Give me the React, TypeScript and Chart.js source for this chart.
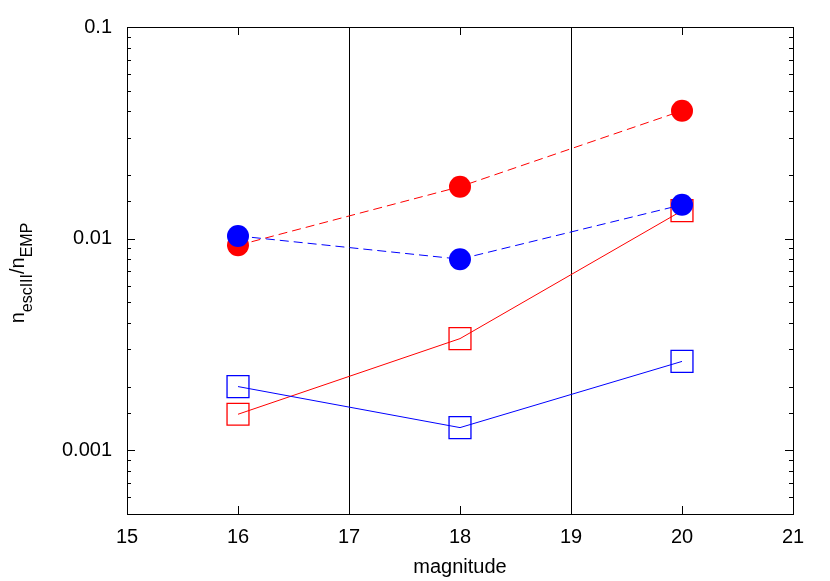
import React, { useEffect, useRef } from "react";
import { Chart, registerables } from "chart.js";

Chart.register(...registerables);

const magnitudes = [16, 18, 20];
const redFilled = [0.0093, 0.0176, 0.0402];
const blueFilled = [0.0103, 0.0080, 0.01445];
const redOpen = [0.00148, 0.00337, 0.01355];
const blueOpen = [0.0020, 0.00128, 0.00263];
const xTicks = [15, 16, 17, 18, 19, 20, 21];
const xDividers = [17, 19];
const yLabels = [0.001, 0.01, 0.1];

const FONT = '"Liberation Sans", Arial, Helvetica, sans-serif';
const RED = "#ff0000";
const BLUE = "#0000ff";

const pts = (ys: number[]) => magnitudes.map((x, i) => ({ x, y: ys[i] }));

const isDecade = (v: number) => Math.abs(Math.log10(v) - Math.round(Math.log10(v))) < 1e-6;

const framePlugin = {
  id: "frame",
  afterDraw(chart: any) {
    const { ctx, chartArea: a, scales } = chart;
    ctx.save();
    ctx.strokeStyle = "#000";
    ctx.lineWidth = 1;
    ctx.strokeRect(Math.round(a.left) + 0.5, Math.round(a.top) + 0.5, Math.round(a.right - a.left), Math.round(a.bottom - a.top));
    ctx.beginPath();
    for (const t of scales.x.ticks) {
      const px = Math.round(scales.x.getPixelForValue(t.value)) + 0.5;
      ctx.moveTo(px, a.bottom);
      ctx.lineTo(px, a.bottom - 8);
      ctx.moveTo(px, a.top);
      ctx.lineTo(px, a.top + 8);
    }
    for (const t of scales.y.ticks) {
      const py = Math.round(scales.y.getPixelForValue(t.value)) + 0.5;
      const len = isDecade(t.value) ? 8 : 4;
      ctx.moveTo(a.left, py);
      ctx.lineTo(a.left + len, py);
      ctx.moveTo(a.right, py);
      ctx.lineTo(a.right - len, py);
    }
    ctx.stroke();
    // x title
    ctx.fillStyle = "#000";
    ctx.font = `20px ${FONT}`;
    ctx.textAlign = "center";
    ctx.textBaseline = "middle";
    ctx.fillText("magnitude", (a.left + a.right) / 2, 567);
    // y title with subscripts
    const parts = [
      { t: "n", size: 20, dy: 0 },
      { t: "escIII", size: 16, dy: 8 },
      { t: "/n", size: 20, dy: 0 },
      { t: "EMP", size: 16, dy: 8 },
    ];
    ctx.textAlign = "left";
    ctx.textBaseline = "alphabetic";
    let total = 0;
    const widths = parts.map((p) => {
      ctx.font = `${p.size}px ${FONT}`;
      const w = ctx.measureText(p.t).width;
      total += w;
      return w;
    });
    ctx.translate(24, 273);
    ctx.rotate(-Math.PI / 2);
    let x = -total / 2;
    parts.forEach((p, i) => {
      ctx.font = `${p.size}px ${FONT}`;
      ctx.fillText(p.t, x, p.dy);
      x += widths[i];
    });
    ctx.restore();
  },
};

export default function App() {
  const ref = useRef<HTMLCanvasElement | null>(null);
  useEffect(() => {
    if (!ref.current) return;
    const chart = new Chart(ref.current, {
      type: "line",
      data: {
        datasets: [
          {
            label: "blue filled",
            data: pts(blueFilled),
            borderColor: BLUE,
            backgroundColor: BLUE,
            borderWidth: 1,
            borderDash: [9, 5],
            pointRadius: 11,
            pointBackgroundColor: BLUE,
            pointBorderColor: BLUE,
            pointBorderWidth: 0,
            order: 0,
          },
          {
            label: "red filled",
            data: pts(redFilled),
            borderColor: RED,
            backgroundColor: RED,
            borderWidth: 1,
            borderDash: [9, 5],
            pointRadius: 11,
            pointBackgroundColor: RED,
            pointBorderColor: RED,
            pointBorderWidth: 0,
            order: 1,
          },
          {
            label: "blue open",
            data: pts(blueOpen),
            borderColor: BLUE,
            backgroundColor: "rgba(0,0,0,0)",
            borderWidth: 1,
            pointStyle: "rect",
            pointRadius: 15.5,
            pointBackgroundColor: "rgba(0,0,0,0)",
            pointBorderColor: BLUE,
            pointBorderWidth: 1.3,
            order: 2,
          },
          {
            label: "red open",
            data: pts(redOpen),
            borderColor: RED,
            backgroundColor: "rgba(0,0,0,0)",
            borderWidth: 1,
            pointStyle: "rect",
            pointRadius: 15.5,
            pointBackgroundColor: "rgba(0,0,0,0)",
            pointBorderColor: RED,
            pointBorderWidth: 1.3,
            order: 3,
          },
        ],
      },
      options: {
        animation: false,
        responsive: false,
        maintainAspectRatio: false,
        layout: { padding: { left: 0, top: 26, right: 37, bottom: 0 } },
        plugins: { legend: { display: false }, tooltip: { enabled: false } },
        elements: { line: { tension: 0 } },
        scales: {
          x: {
            type: "linear",
            min: 15,
            max: 21,
            afterBuildTicks: (s: any) => {
              s.ticks = xTicks.map((v) => ({ value: v }));
            },
            afterFit: (s: any) => {
              s.height = 67;
            },
            border: { display: false },
            grid: {
              drawTicks: false,
              lineWidth: 1,
              color: (c: any) => (c.tick && xDividers.includes(c.tick.value) ? "#000" : "rgba(0,0,0,0)"),
            },
            ticks: {
              padding: 11,
              color: "#000",
              font: { family: FONT, size: 20 },
              maxRotation: 0,
            },
          },
          y: {
            type: "logarithmic",
            min: 0.0005,
            max: 0.1,
            afterFit: (s: any) => {
              s.width = 127;
            },
            border: { display: false },
            grid: { display: false, drawTicks: false },
            ticks: {
              padding: 15,
              color: "#000",
              autoSkip: false,
              font: { family: FONT, size: 20 },
              callback: (v: any) => {
                const n = Number(v);
                const hit = yLabels.find((l) => Math.abs(l - n) / l < 1e-6);
                return hit !== undefined ? String(hit) : "";
              },
            },
          },
        },
      },
      plugins: [framePlugin],
    });
    return () => chart.destroy();
  }, []);
  return (
    <div style={{ position: "absolute", left: 0, top: 0, width: 830, height: 581, background: "#fff" }}>
      <canvas ref={ref} width={830} height={581} />
    </div>
  );
}
